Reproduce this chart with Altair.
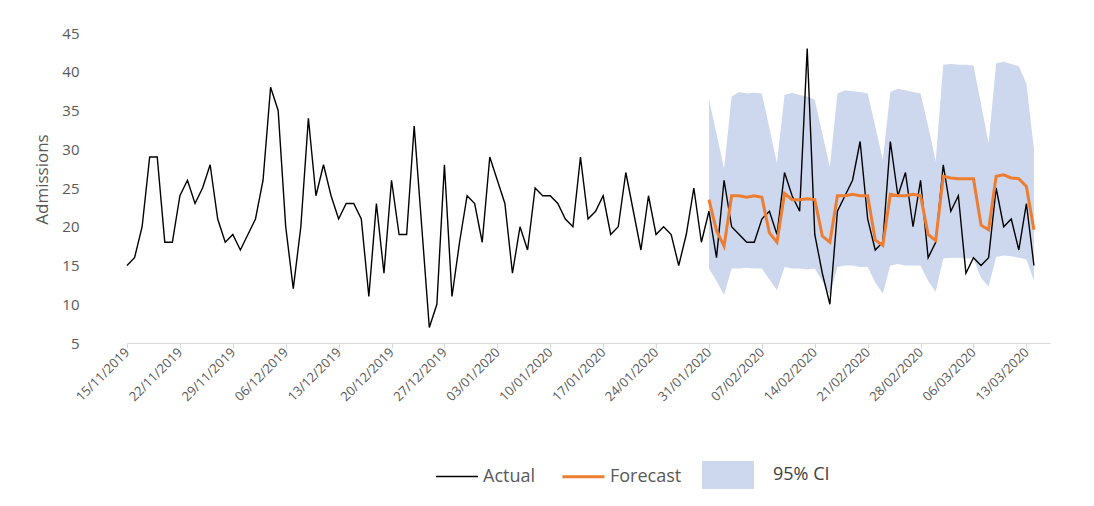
import altair as alt
import pandas as pd

# ---------------- data ----------------
start_date = "2019-11-15"
actual = [15, 16, 20, 29, 29, 18, 18, 24, 26, 23,
          25, 28, 21, 18, 19, 17, 19, 21, 26, 38,
          35, 20, 12, 20, 34, 24, 28, 24, 21, 23,
          23, 21, 11, 23, 14, 26, 19, 19, 33, 20,
          7, 10, 28, 11, 18, 24, 23, 18, 29, 26,
          23, 14, 20, 17, 25, 24, 24, 23, 21, 20,
          29, 21, 22, 24, 19, 20, 27, 22, 17, 24,
          19, 20, 19, 15, 19, 25, 18, 22, 16, 26,
          20, 19, 18, 18, 21, 22, 19, 27, 24, 22,
          43, 19, 14, 10, 22, 24, 26, 31, 21, 17,
          18, 31, 24, 27, 20, 26, 16, 18, 28, 22,
          24, 14, 16, 15, 16, 25, 20, 21, 17, 23,
          15]

forecast_start = "2020-01-31"
forecast = [23.5, 19.5, 17.5,
            24.0, 24.0, 23.8, 24.0, 23.8, 19.2, 18.0,
            24.3, 23.5, 23.5, 23.6, 23.5, 18.8, 18.0,
            24.0, 24.0, 24.2, 24.0, 24.0, 18.3, 17.6,
            24.2, 24.0, 24.0, 24.2, 24.0, 19.0, 18.2,
            26.5, 26.3, 26.2, 26.2, 26.2, 20.2, 19.6,
            26.5, 26.7, 26.3, 26.2, 25.2, 19.6]
ci_upper = [36.4, 32.0, 27.5,
            36.8, 37.4, 37.2, 37.3, 37.2, 32.7, 28.2,
            37.0, 37.3, 37.0, 36.8, 36.4, 32.0, 27.7,
            37.2, 37.6, 37.5, 37.4, 37.2, 33.0, 28.6,
            37.4, 37.8, 37.6, 37.4, 37.2, 33.0, 28.5,
            40.9, 41.0, 40.9, 40.9, 40.8, 35.8, 30.8,
            41.1, 41.3, 41.0, 40.7, 38.5, 30.0]
ci_lower = [14.6, 13.0, 11.2,
            14.6, 14.6, 14.7, 14.6, 14.6, 13.2, 11.8,
            14.8, 14.6, 14.6, 14.5, 14.6, 13.0, 11.2,
            14.8, 15.0, 15.0, 14.8, 14.8, 12.8, 11.4,
            15.0, 15.2, 15.0, 15.0, 15.0, 13.0, 11.6,
            15.9, 16.0, 16.0, 15.9, 15.9, 13.4, 12.3,
            16.1, 16.3, 16.2, 16.0, 15.8, 13.0]

tick_labels = ["15/11/2019", "22/11/2019", "29/11/2019", "06/12/2019",
               "13/12/2019", "20/12/2019", "27/12/2019", "03/01/2020",
               "10/01/2020", "17/01/2020", "24/01/2020", "31/01/2020",
               "07/02/2020", "14/02/2020", "21/02/2020", "28/02/2020",
               "06/03/2020", "13/03/2020"]
y_ticks = [5, 10, 15, 20, 25, 30, 35, 40, 45]
series_names = ["Actual", "Forecast"]
series_colors = ["#000000", "#ED7D31"]
series_widths = [1.4, 3.0]
band_name = "95% CI"
band_color = "#CDD7EE"

# ---------------- tables ----------------
act_dates = pd.date_range(start_date, periods=len(actual), freq="D").strftime("%Y-%m-%d")
fc_dates = pd.date_range(forecast_start, periods=len(forecast), freq="D").strftime("%Y-%m-%d")

actual_df = pd.DataFrame({"date": list(act_dates), "value": actual, "series": series_names[0]})
fc_df = pd.DataFrame({"date": list(fc_dates), "value": forecast, "series": series_names[1]})
band_df = pd.DataFrame({"date": list(fc_dates), "lower": ci_lower, "upper": ci_upper, "band": band_name})


def to_dt(s):
    d, m, y = (int(p) for p in s.split("/"))
    return alt.DateTime(year=y, month=m, date=d, utc=True)


GREY = "#595959"
FONT = "Open Sans"

x_scale = alt.Scale(type="utc",
                    domain=[alt.DateTime(year=2019, month=11, date=15, utc=True),
                            alt.DateTime(year=2020, month=3, date=16, hours=3, utc=True)])
x_axis = alt.Axis(values=[to_dt(t) for t in tick_labels], format="%d/%m/%Y",
                  labelAngle=-45, labelAlign="right", labelBaseline="middle",
                  labelFontSize=13, labelColor=GREY, labelFont=FONT,
                  domainColor="#D9D9D9", tickColor="#D9D9D9", tickSize=5,
                  labelPadding=2, grid=False, title=None, labelOverlap=False)
y_scale = alt.Scale(domain=[5, 45], nice=False, zero=False)
y_axis = alt.Axis(values=y_ticks, title="Admissions", grid=False, domain=False,
                  ticks=False, tickSize=0, labelPadding=48, labelFontSize=15,
                  labelColor=GREY, labelFont=FONT, titleFont=FONT, titleFontSize=17,
                  titleFontWeight="normal", titleColor=GREY, titlePadding=10,
                  titleY=146)

X = alt.X("date:T", scale=x_scale, axis=x_axis)

line_legend = alt.Legend(orient="none", legendX=308, legendY=421, direction="horizontal",
                         title=None, symbolType="stroke", symbolSize=1764,
                         labelFontSize=18, labelColor=GREY, labelFont=FONT,
                         labelOffset=4, columnPadding=20)
stroke_enc = alt.Stroke("series:N", scale=alt.Scale(domain=series_names, range=series_colors),
                        legend=line_legend)
width_enc = alt.StrokeWidth("series:N",
                            scale=alt.Scale(type="ordinal", domain=series_names, range=series_widths),
                            legend=line_legend)

band = alt.Chart(band_df).mark_area(opacity=1).encode(
    x=X,
    y=alt.Y("lower:Q", scale=y_scale, axis=y_axis),
    y2="upper:Q",
    fill=alt.Fill("band:N", scale=alt.Scale(domain=[band_name], range=[band_color]),
                  legend=alt.Legend(orient="none", legendX=575, legendY=416,
                                    direction="horizontal", title=None,
                                    symbolType="M-1,-0.54H1V0.54H-1Z", symbolSize=2704,
                                    symbolStrokeWidth=0, symbolOpacity=1,
                                    labelFontSize=18, labelColor="#404040",
                                    labelFont=FONT, labelOffset=19)),
)

line_actual = alt.Chart(actual_df).mark_line().encode(
    x=X,
    y=alt.Y("value:Q", scale=y_scale, axis=y_axis),
    stroke=stroke_enc,
    strokeWidth=width_enc,
)

line_fc = alt.Chart(fc_df).mark_line().encode(
    x=X,
    y=alt.Y("value:Q", scale=y_scale, axis=y_axis),
    stroke=stroke_enc,
    strokeWidth=width_enc,
)

chart = alt.layer(band, line_actual, line_fc).properties(
    width=923,
    height=310,
    padding={"left": 119, "top": 25, "right": 36, "bottom": 148},
    autosize=alt.AutoSizeParams(type="none"),
    background="white",
).configure(font=FONT).configure_view(stroke=None)

chart.save("out.html", embed_options={"renderer": "svg", "actions": False})
